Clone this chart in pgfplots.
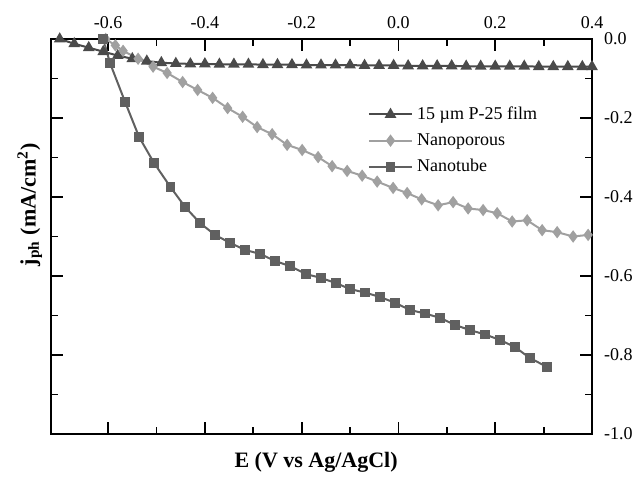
\documentclass[border=0pt]{standalone}
\usepackage{fontspec}
\setmainfont{Liberation Serif}
\usepackage{pgfplots}
\pgfplotsset{compat=1.18}
\definecolor{cTri}{HTML}{4A4A4A}
\definecolor{cPor}{HTML}{A0A0A0}
\definecolor{cTub}{HTML}{606060}
\begin{document}
\begin{tikzpicture}
\begin{axis}[
  name=ax,
  scale only axis,
  width=270.5pt, height=197.5pt,
  xmin=-0.718, xmax=0.4,
  ymin=-1.0, ymax=0.0,
  axis line style={line width=1pt},
  tick style={line width=0.9pt, black},
  tick align=inside,
  major tick length=6pt,
  minor tick length=3.5pt,
  xtick={-0.6,-0.4,-0.2,0.0,0.2,0.4},
  xticklabels={-0.6,-0.4,-0.2,0.0,0.2,0.4},
  minor xtick={-0.5,-0.3,-0.1,0.1,0.3},
  ytick={0,-0.2,-0.4,-0.6,-0.8,-1.0},
  yticklabels={0.0,-0.2,-0.4,-0.6,-0.8,-1.0},
  minor ytick={-0.1,-0.3,-0.5,-0.7,-0.9},
  xticklabel pos=right,
  yticklabel pos=right,
  xticklabel style={font=\fontsize{9}{10}\selectfont, yshift=1.5pt},
  yticklabel style={font=\fontsize{9}{10}\selectfont, xshift=2.5pt},
  xlabel={E (V vs Ag/AgCl)},
  xlabel style={at={(axis description cs:0.49,-0.086)}, anchor=base, font=\fontsize{11}{12}\selectfont\bfseries},
  ylabel={j\textsubscript{ph} (mA/cm\textsuperscript{2})},
  ylabel style={at={(axis description cs:-0.039,0.58)}, anchor=center, font=\fontsize{11}{12}\selectfont\bfseries},
  legend style={at={(axis description cs:0.585,0.84)}, anchor=north west, draw=none, fill=none,
    font=\fontsize{9}{10}\selectfont, row sep=1.5pt, inner sep=0pt},
  legend cell align=left,
  legend image code/.code={\draw[mark repeat=2,mark phase=2] plot coordinates {(0cm,0cm) (0.38cm,0cm) (0.76cm,0cm)};},
]
\addplot[color=cTri, line width=1pt, mark=triangle*, mark size=2.4pt, mark options={fill=cTri}] coordinates {
(-0.700,0.000) (-0.670,-0.012) (-0.640,-0.022) (-0.610,-0.032) (-0.580,-0.042)
(-0.550,-0.050) (-0.520,-0.056) (-0.490,-0.060) (-0.460,-0.062) (-0.430,-0.063)
(-0.400,-0.063) (-0.370,-0.064) (-0.340,-0.064) (-0.310,-0.064) (-0.280,-0.065)
(-0.250,-0.065) (-0.220,-0.065) (-0.190,-0.066) (-0.160,-0.066) (-0.130,-0.066)
(-0.100,-0.066) (-0.070,-0.067) (-0.040,-0.067) (-0.010,-0.067) (0.020,-0.068)
(0.050,-0.068) (0.080,-0.068) (0.110,-0.068) (0.140,-0.069) (0.170,-0.069)
(0.200,-0.069) (0.230,-0.069) (0.260,-0.069) (0.290,-0.070) (0.320,-0.070)
(0.350,-0.070) (0.380,-0.070) (0.400,-0.070)
};
\addlegendentry{15 µm P-25 film}
\addplot[color=cPor, line width=1pt, mark=diamond*, mark size=2.3pt, mark options={fill=cPor}] coordinates {
(-0.605,0.000) (-0.585,-0.016) (-0.569,-0.030) (-0.538,-0.050) (-0.507,-0.070)
(-0.478,-0.086) (-0.446,-0.109) (-0.415,-0.129) (-0.384,-0.149) (-0.353,-0.175)
(-0.322,-0.197) (-0.292,-0.223) (-0.261,-0.241) (-0.230,-0.268) (-0.199,-0.281)
(-0.166,-0.299) (-0.137,-0.322) (-0.106,-0.334) (-0.075,-0.346) (-0.044,-0.361)
(-0.011,-0.377) (0.018,-0.390) (0.048,-0.406) (0.082,-0.421) (0.113,-0.413)
(0.144,-0.429) (0.175,-0.433) (0.204,-0.441) (0.235,-0.462) (0.266,-0.459)
(0.297,-0.484) (0.328,-0.489) (0.361,-0.500) (0.392,-0.496)
};
\addlegendentry{Nanoporous}
\addplot[color=cTub, line width=1pt, mark=square*, mark size=1.9pt, mark options={fill=cTub}] coordinates {
(-0.610,0.000) (-0.596,-0.061) (-0.565,-0.159) (-0.536,-0.248) (-0.505,-0.314)
(-0.471,-0.375) (-0.441,-0.425) (-0.410,-0.466) (-0.379,-0.496) (-0.348,-0.516)
(-0.317,-0.534) (-0.286,-0.544) (-0.255,-0.562) (-0.224,-0.575) (-0.191,-0.595)
(-0.160,-0.605) (-0.129,-0.618) (-0.100,-0.633) (-0.069,-0.642) (-0.038,-0.653)
(-0.007,-0.668) (0.024,-0.686) (0.055,-0.695) (0.086,-0.706) (0.117,-0.724)
(0.148,-0.737) (0.179,-0.748) (0.210,-0.762) (0.241,-0.780) (0.272,-0.808)
(0.307,-0.830)
};
\addlegendentry{Nanotube}
\end{axis}
\pgfresetboundingbox
\path ([xshift=-25.5pt,yshift=-21pt]ax.south west) rectangle ([xshift=21pt,yshift=19.5pt]ax.north east);
\end{tikzpicture}
\end{document}
